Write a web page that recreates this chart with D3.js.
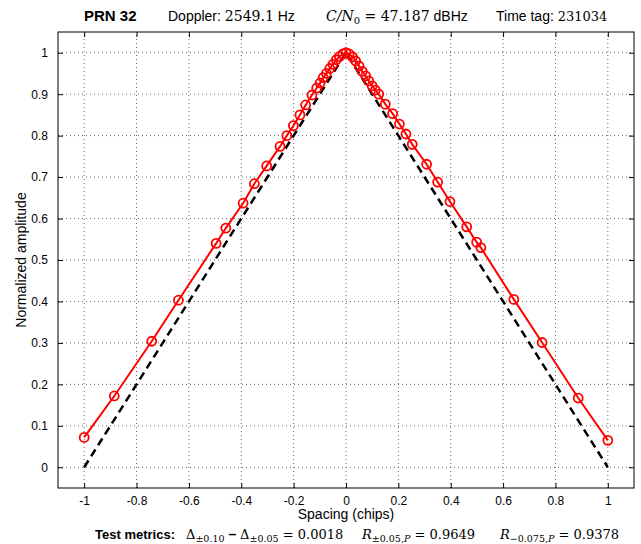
<!DOCTYPE html>
<html>
<head>
<meta charset="utf-8">
<script src="https://cdn.jsdelivr.net/npm/d3@7"></script>
<style>
  body { margin: 0; background: #fff; }
  text { font-family: "Liberation Sans", Arial, sans-serif; }
  .serif { font-family: "DejaVu Serif", "Liberation Serif", serif; }
</style>
</head>
<body>
<script>

// measured correlation points (chips, normalized amplitude)
const spacing = [-1.000, -0.885, -0.742, -0.640, -0.496, -0.459, -0.393, -0.350, -0.303, -0.252,
                 -0.226, -0.201, -0.176, -0.154, -0.130, -0.112, -0.099, -0.087, -0.075, -0.062,
                 -0.050, -0.037, -0.025, -0.012, 0.000, 0.012, 0.025, 0.037, 0.050, 0.062,
                 0.075, 0.087, 0.100, 0.112, 0.125, 0.150, 0.178, 0.204, 0.229, 0.253,
                 0.308, 0.350, 0.397, 0.461, 0.499, 0.515, 0.641, 0.749, 0.887, 1.000];
const amplitude = [0.072, 0.172, 0.304, 0.403, 0.540, 0.577, 0.637, 0.684, 0.727, 0.774,
                   0.800, 0.824, 0.850, 0.874, 0.898, 0.915, 0.927, 0.940, 0.950, 0.962,
                   0.972, 0.983, 0.991, 0.997, 1.000, 0.997, 0.990, 0.980, 0.968, 0.955,
                   0.944, 0.932, 0.920, 0.910, 0.900, 0.876, 0.853, 0.828, 0.804, 0.779,
                   0.731, 0.688, 0.641, 0.580, 0.543, 0.530, 0.405, 0.301, 0.167, 0.065];

// ideal triangle
const idealSpacing = [-1, 0, 1];
const idealAmplitude = [0, 1, 0];

// tick values
const xTicks = [-1, -0.8, -0.6, -0.4, -0.2, 0, 0.2, 0.4, 0.6, 0.8, 1];
const yTicks = [0, 0.1, 0.2, 0.3, 0.4, 0.5, 0.6, 0.7, 0.8, 0.9, 1];

// set dimensions
const WIDTH = 641;
const HEIGHT = 544;
const MARGIN = {top: 32, bottom: 56, left: 58, right: 7};

let SVG = d3.select('body')
            .append('svg')
            .attr('width', WIDTH)
            .attr('height', HEIGHT);

const xScale = d3.scaleLinear()
                 .domain([-1.1, 1.1])
                 .range([MARGIN.left, WIDTH - MARGIN.right]);

const yScale = d3.scaleLinear()
                 .domain([-0.05, 1.05])
                 .range([HEIGHT - MARGIN.bottom, MARGIN.top]);

const x0 = MARGIN.left, x1 = WIDTH - MARGIN.right;
const y0 = HEIGHT - MARGIN.bottom, y1 = MARGIN.top;

// dotted grid
SVG.append('g').selectAll('line')
   .data(xTicks)
   .enter().append('line')
   .attr('x1', d => xScale(d)).attr('x2', d => xScale(d))
   .attr('y1', y0).attr('y2', y1)
   .attr('stroke', '#666').attr('stroke-width', 1)
   .attr('stroke-dasharray', '1,3');

SVG.append('g').selectAll('line')
   .data(yTicks)
   .enter().append('line')
   .attr('x1', x0).attr('x2', x1)
   .attr('y1', d => yScale(d)).attr('y2', d => yScale(d))
   .attr('stroke', '#666').attr('stroke-width', 1)
   .attr('stroke-dasharray', '1,3');

// axes, ticks pointing inwards on all four sides
const fmt = d => String(d);
SVG.append('g')
   .attr('class', 'axis')
   .attr('transform', 'translate(0,' + y0 + ')')
   .call(d3.axisBottom(xScale).tickValues(xTicks).tickSize(-5).tickPadding(8).tickFormat(fmt));
SVG.append('g')
   .attr('class', 'axis')
   .attr('transform', 'translate(0,' + y1 + ')')
   .call(d3.axisTop(xScale).tickValues(xTicks).tickSize(-5).tickFormat(''));
SVG.append('g')
   .attr('class', 'axis')
   .attr('transform', 'translate(' + x0 + ',0)')
   .call(d3.axisLeft(yScale).tickValues(yTicks).tickSize(-5).tickPadding(10).tickFormat(fmt));
SVG.append('g')
   .attr('class', 'axis')
   .attr('transform', 'translate(' + x1 + ',0)')
   .call(d3.axisRight(yScale).tickValues(yTicks).tickSize(-5).tickFormat(''));

SVG.selectAll('.axis .domain').remove();
SVG.selectAll('.axis text')
   .style('font-size', '12px')
   .style('font-family', '"Liberation Sans", Arial, sans-serif')
   .attr('fill', '#000');
SVG.selectAll('.axis line').attr('stroke', '#000');

// box
SVG.append('rect')
   .attr('x', x0).attr('y', y1)
   .attr('width', x1 - x0).attr('height', y0 - y1)
   .attr('fill', 'none').attr('stroke', '#000').attr('stroke-width', 1);

// ideal dashed line
const ideal = idealSpacing.map((d, i) => [d, idealAmplitude[i]]);
SVG.append('path')
   .datum(ideal)
   .attr('d', d3.line().x(d => xScale(d[0])).y(d => yScale(d[1])))
   .attr('fill', 'none')
   .attr('stroke', '#000')
   .attr('stroke-width', 2.5)
   .attr('stroke-dasharray', '8,5');

// measured line with circle markers
const measured = spacing.map((d, i) => [d, amplitude[i]]);
SVG.append('path')
   .datum(measured)
   .attr('d', d3.line().x(d => xScale(d[0])).y(d => yScale(d[1])))
   .attr('fill', 'none')
   .attr('stroke', '#ff0000')
   .attr('stroke-width', 2);

SVG.append('g').selectAll('circle')
   .data(measured)
   .enter().append('circle')
   .attr('cx', d => xScale(d[0]))
   .attr('cy', d => yScale(d[1]))
   .attr('r', 4.5)
   .attr('fill', 'none')
   .attr('stroke', '#ff0000')
   .attr('stroke-width', 1.8);

// axis labels
SVG.append('text')
   .attr('x', xScale(0)).attr('y', 519)
   .attr('text-anchor', 'middle')
   .style('font-size', '14px')
   .text('Spacing (chips)');

SVG.append('text')
   .attr('transform', 'translate(26,' + ((y0 + y1) / 2) + ') rotate(-90)')
   .attr('text-anchor', 'middle')
   .style('font-size', '14px')
   .text('Normalized amplitude');

// title line
const title = SVG.append('text').attr('y', 21).style('font-size', '14px');
title.append('tspan').attr('x', 84).style('font-weight', 'bold').style('font-size', '15px').text('PRN 32');
title.append('tspan').attr('x', 168).text('Doppler: ');
title.append('tspan').attr('class', 'serif').style('font-size', '14px').text('2549.1');
title.append('tspan').text(' Hz');
title.append('tspan').attr('x', 326).attr('class', 'serif').style('font-style', 'italic').style('font-size', '14px').text('C/N');
title.append('tspan').attr('class', 'serif').style('font-size', '10px').attr('dy', 3).text('0');
title.append('tspan').attr('class', 'serif').style('font-size', '14px').attr('dy', -3).text(' = 47.187');
title.append('tspan').text(' dBHz');
title.append('tspan').attr('x', 496).text('Time tag: ');
title.append('tspan').attr('class', 'serif').style('font-size', '13px').text('231034');

// test metrics line
const metrics = SVG.append('text').attr('y', 539).style('font-size', '14px');
metrics.append('tspan').attr('x', 95).style('font-weight', 'bold').style('font-size', '13px').text('Test metrics:');
metrics.append('tspan').attr('x', 186).attr('class', 'serif').style('font-size', '13px').text('Δ');
metrics.append('tspan').attr('class', 'serif').style('font-size', '9.5px').attr('dy', 3).text('±0.10');
metrics.append('tspan').attr('dy', -3).style('font-weight', 'bold').text(' – ');
metrics.append('tspan').attr('class', 'serif').style('font-size', '13px').text('Δ');
metrics.append('tspan').attr('class', 'serif').style('font-size', '9.5px').attr('dy', 3).text('±0.05');
metrics.append('tspan').attr('class', 'serif').style('font-size', '13px').attr('dy', -3).text(' = 0.0018');
metrics.append('tspan').attr('x', 362).attr('class', 'serif').style('font-style', 'italic').style('font-size', '13px').text('R');
metrics.append('tspan').attr('class', 'serif').style('font-size', '9.5px').attr('dy', 3).text('±0.05,');
metrics.append('tspan').attr('class', 'serif').style('font-size', '9.5px').style('font-style', 'italic').text('P');
metrics.append('tspan').attr('class', 'serif').style('font-size', '13px').attr('dy', -3).text(' = 0.9649');
metrics.append('tspan').attr('x', 500).attr('class', 'serif').style('font-style', 'italic').style('font-size', '13px').text('R');
metrics.append('tspan').attr('class', 'serif').style('font-size', '9.5px').attr('dy', 3).text('−0.075,');
metrics.append('tspan').attr('class', 'serif').style('font-size', '9.5px').style('font-style', 'italic').text('P');
metrics.append('tspan').attr('class', 'serif').style('font-size', '13px').attr('dy', -3).text(' = 0.9378');

</script>
</body>
</html>
